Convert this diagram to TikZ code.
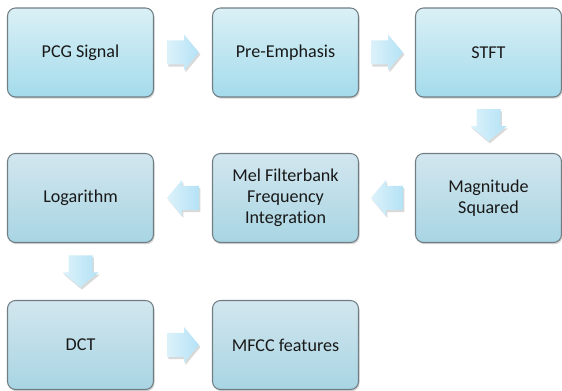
\documentclass[tikz,border=0pt]{standalone}
\usepackage{fontspec}
\setmainfont[Ligatures=NoCommon]{Carlito}
\usepackage{xcolor}
\usetikzlibrary{shadows, calc}

\definecolor{boxtop}{RGB}{218,240,246}
\definecolor{boxbot}{RGB}{164,219,235}
\definecolor{lowtop}{RGB}{210,230,238}
\definecolor{lowbot}{RGB}{168,213,227}
\definecolor{boxline}{RGB}{112,126,132}
\definecolor{arrtail}{RGB}{220,242,250}
\definecolor{arrhead}{RGB}{180,226,246}

\tikzset{
  procbox/.style={draw=boxline, line width=0.6pt, rounded corners=0.16cm,
    top color=boxtop, bottom color=boxbot,
    minimum width=2.92cm, minimum height=1.78cm, align=center,
    text=black!90, font=\fontsize{10.3}{12}\selectfont,
    drop shadow={shadow xshift=0.6pt, shadow yshift=-1pt, opacity=0.35}},
  procboxlow/.style={procbox, top color=lowtop, bottom color=lowbot},
  arrowfill/.style={draw=none, left color=arrtail, right color=arrhead,
    drop shadow={shadow xshift=0.8pt, shadow yshift=-1.2pt, opacity=0.3}},
  % block arrow pointing along +x, 32 units long
  blockarrow/.pic={
    \path[arrowfill] (-16,-12) -- (1,-12) -- (1,-18) -- (16,0)
      -- (1,18) -- (1,12) -- (-16,12) -- cycle;
  }
}

\begin{document}
\begin{tikzpicture}[x=0.02cm, y=-0.02cm]
  \useasboundingbox (0,0) rectangle (562,391);
  % Row 1
  \node[procbox] (pcg)  at (80.5,52.5)  {PCG Signal};
  \node[procbox] (pre)  at (285.5,52.5) {Pre-Emphasis};
  \node[procbox] (stft) at (488.5,52.5) {STFT};
  % Row 2
  \node[procboxlow] (mag) at (488.5,198) {Magnitude\\Squared};
  \node[procboxlow] (mel) at (285.5,198) {Mel Filterbank\\Frequency\\Integration};
  \node[procboxlow] (log) at (80.5,198)  {Logarithm};
  % Row 3
  \node[procboxlow] (dct)  at (80.5,345)  {DCT};
  \node[procboxlow] (mfcc) at (285.5,345) {MFCC features};
  % Block arrows between steps
  \pic (a1) at ($(pcg.east)!0.5!(pre.west)$) {blockarrow};
  \pic (a2) at ($(pre.east)!0.5!(stft.west)$) {blockarrow};
  \pic (a3) [rotate=-90] at ($(stft.south)!0.5!(mag.north)$) {blockarrow};
  \pic (a4) [rotate=180] at ($(mag.west)!0.5!(mel.east)$) {blockarrow};
  \pic (a5) [rotate=180] at ($(mel.west)!0.5!(log.east)$) {blockarrow};
  \pic (a6) [rotate=-90] at ($(log.south)!0.5!(dct.north)$) {blockarrow};
  \pic (a7) at ($(dct.east)!0.5!(mfcc.west)$) {blockarrow};
\end{tikzpicture}
\end{document}
